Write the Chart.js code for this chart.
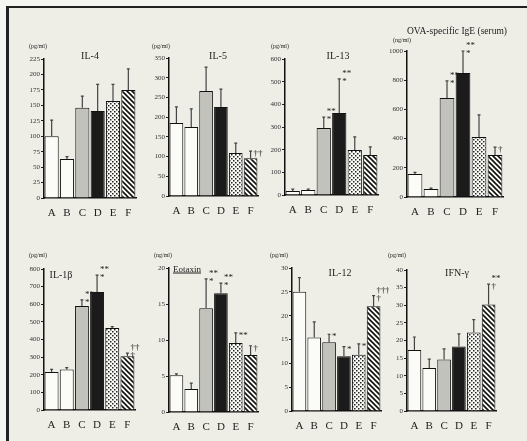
<!DOCTYPE html>
<html><head><meta charset="utf-8">
<script src="https://cdn.jsdelivr.net/npm/chart.js@4.4.1/dist/chart.umd.min.js"></script>
<style>
html,body{margin:0;padding:0;width:527px;height:441px;overflow:hidden;background:#f4f4f0;position:relative}
#frame{position:absolute;left:6px;top:6px;width:521px;height:435px;background:#eeede6;border-top:2px solid #222;border-left:3px solid #222;box-sizing:border-box}
canvas{position:absolute}
.txt{position:absolute;font-family:"Liberation Serif","DejaVu Serif",serif;color:#222;white-space:nowrap;transform:translate(-50%,-50%);line-height:1}
</style></head>
<body>
<div id="frame"></div>
<script>
// ---------- data ----------
const categories = ['A','B','C','D','E','F'];

const il4Mean  = [100, 63, 146, 141, 157, 175];
const il4Sd    = [26, 4, 19, 43, 27, 34];
const il4Marks = ['', '', '', '', '', ''];
const il4Axis  = [225, 25];

const il5Mean  = [185, 175, 266, 226, 109, 96];
const il5Sd    = [41, 46, 61, 45, 25, 18];
const il5Marks = ['', '', '', '', '', '††'];
const il5Axis  = [350, 50];

const il13Mean  = [18, 22, 296, 362, 199, 176];
const il13Sd    = [8, 4, 48, 150, 57, 36];
const il13Marks = ['', '', '**\n*', '**\n*', '', ''];
const il13Axis  = [600, 100];

const igeMean  = [158, 55, 678, 849, 411, 288];
const igeSd    = [10, 6, 117, 151, 151, 54];
const igeMarks = ['', '', '**\n*', '**\n*', '', '†'];
const igeAxis  = [1000, 200];

const il1bMean  = [215, 230, 590, 670, 465, 305];
const il1bSd    = [15, 10, 35, 95, 8, 18];
const il1bMarks = ['', '', '**\n*', '**\n*', '', '††\n†'];
const il1bAxis  = [800, 100];

const eotMean  = [5.1, 3.2, 14.4, 16.5, 9.6, 7.9];
const eotSd    = [0.2, 0.8, 4.1, 1.4, 1.4, 1.3];
const eotMarks = ['', '', '**\n*', '**\n*', '**', '†'];
const eotAxis  = [20, 5];

const il12Mean  = [25.0, 15.4, 14.4, 11.5, 11.8, 22.0];
const il12Sd    = [3.0, 3.3, 1.7, 2.0, 2.3, 2.2];
const il12Marks = ['', '', '*', '*', '*', '†††\n†'];
const il12Axis  = [30, 5];

const ifnMean  = [17.3, 12.2, 14.6, 18.3, 22.3, 30.2];
const ifnSd    = [3.7, 2.5, 3.0, 3.6, 3.6, 5.8];
const ifnMarks = ['', '', '', '', '', '**\n†'];
const ifnAxis  = [40, 5];

const titles = ['IL-4','IL-5','IL-13','OVA-specific IgE (serum)','IL-1β','Eotaxin','IL-12','IFN-γ'];
const units  = ['(pg/ml)','(pg/ml)','(pg/ml)','(ng/ml)','(pg/ml)','(ng/ml)','(pg/ml)','(pg/ml)'];

// ---------- layout ----------
const panels = [
  {mean:il4Mean, sd:il4Sd, marks:il4Marks, axis:il4Axis},
  {mean:il5Mean, sd:il5Sd, marks:il5Marks, axis:il5Axis},
  {mean:il13Mean, sd:il13Sd, marks:il13Marks, axis:il13Axis},
  {mean:igeMean, sd:igeSd, marks:igeMarks, axis:igeAxis},
  {mean:il1bMean, sd:il1bSd, marks:il1bMarks, axis:il1bAxis},
  {mean:eotMean, sd:eotSd, marks:eotMarks, axis:eotAxis},
  {mean:il12Mean, sd:il12Sd, marks:il12Marks, axis:il12Axis},
  {mean:ifnMean, sd:ifnSd, marks:ifnMarks, axis:ifnAxis}
];
const boxes = [
  {x:44, top:59, zero:198, right:136, tx:90, ty:56, ux:38, uy:46, tf:10},
  {x:169, top:58, zero:196, right:258, tx:218, ty:56, ux:161, uy:46, tf:10},
  {x:285, top:59, zero:195, right:378, tx:338, ty:56, ux:280, uy:46, tf:10},
  {x:407, top:51, zero:197, right:503, tx:457, ty:32, ux:402, uy:40, tf:9.5},
  {x:44, top:269, zero:410, right:135, tx:61, ty:275, ux:38, uy:255, tf:10},
  {x:169, top:268, zero:412, right:258, tx:187, ty:269, ux:163, uy:255, tf:9, underline:true},
  {x:292, top:268, zero:411, right:381, tx:340, ty:273, ux:279, uy:255, tf:10},
  {x:407, top:270, zero:411, right:496, tx:457, ty:273, ux:397, uy:255, tf:10}
];

function makePattern(kind){
  const c = document.createElement('canvas');
  const g = c.getContext('2d');
  if(kind==='dots'){
    c.width=4; c.height=4;
    g.fillStyle='#fafaf6'; g.fillRect(0,0,4,4);
    g.fillStyle='#222';
    g.fillRect(0,0,1.5,1.5); g.fillRect(2,2,1.5,1.5);
  } else {
    c.width=5; c.height=5;
    g.fillStyle='#fafaf6'; g.fillRect(0,0,5,5);
    g.strokeStyle='#111'; g.lineWidth=1.6;
    g.beginPath();
    g.moveTo(-1,-1); g.lineTo(6,6);
    g.moveTo(-1,4); g.lineTo(1,6);
    g.moveTo(4,-1); g.lineTo(6,1);
    g.stroke();
  }
  return g.createPattern(c,'repeat');
}
const dotPat = makePattern('dots');
const hatchPat = makePattern('hatch');
const barFills = ['#fbfbf8','#fbfbf8','#c2c2bd','#1b1b1b',dotPat,hatchPat];

const serif = '"Liberation Serif","DejaVu Serif",serif';

const errMarkPlugin = {
  id:'errMark',
  afterDatasetsDraw(chart){
    const p = chart.config.options.plugins.errMark;
    const ctx = chart.ctx, ys = chart.scales.y;
    const meta = chart.getDatasetMeta(0);
    ctx.save();
    meta.data.forEach((el,i)=>{
      const yt = ys.getPixelForValue(p.mean[i]+p.sd[i]);
      ctx.strokeStyle='#444'; ctx.lineWidth=1.2;
      ctx.beginPath();
      ctx.moveTo(el.x, el.y); ctx.lineTo(el.x, yt);
      ctx.moveTo(el.x-1.5, yt); ctx.lineTo(el.x+1.5, yt);
      ctx.stroke();
      const m = p.marks[i];
      if(m){
        const lines = m.split('\n');
        ctx.fillStyle='#222';
        ctx.font = '9px '+serif;
        ctx.textAlign='left'; ctx.textBaseline='alphabetic';
        let y = yt + 5;
        for(let k=lines.length-1;k>=0;k--){
          ctx.fillText(lines[k], el.x+3, y);
          y -= 8;
        }
      }
    });
    ctx.restore();
  }
};

const PADL=28, PADT=14, PADB=22, PADR=8;
panels.forEach((p,i)=>{
  const b = boxes[i];
  const w = PADL + (b.right-b.x) + PADR;
  const h = PADT + (b.zero-b.top) + PADB;
  const cv = document.createElement('canvas');
  cv.width=w; cv.height=h;
  cv.style.left=(b.x-PADL)+'px'; cv.style.top=(b.top-PADT)+'px';
  cv.style.width=w+'px'; cv.style.height=h+'px';
  document.body.appendChild(cv);
  new Chart(cv,{
    type:'bar',
    data:{labels:categories, datasets:[{data:p.mean, backgroundColor:barFills, borderColor:'#111', borderWidth:1, barPercentage:0.92, categoryPercentage:1}]},
    options:{
      responsive:false, animation:false,
      layout:{padding:{top:PADT,right:PADR,left:0,bottom:0}},
      plugins:{legend:{display:false}, tooltip:{enabled:false}, errMark:{mean:p.mean, sd:p.sd, marks:p.marks}},
      scales:{
        x:{offset:true, grid:{display:false}, border:{display:true,color:'#111',width:1.5},
           ticks:{font:{family:serif,size:11}, color:'#222', padding:1, maxRotation:0},
           afterFit:s=>{s.height=PADB;}},
        y:{min:0, max:p.axis[0], grid:{display:true, drawOnChartArea:false, drawTicks:true, tickLength:3, color:'#222'},
           border:{display:true,color:'#111',width:1.5},
           ticks:{stepSize:p.axis[1], font:{family:serif,size:7}, color:'#333', padding:1, callback:v=>String(v)},
           afterFit:s=>{s.width=PADL;}}
      }
    },
    plugins:[errMarkPlugin]
  });
  const t = document.createElement('div');
  t.className='txt'; t.textContent=titles[i];
  t.style.left=b.tx+'px'; t.style.top=b.ty+'px'; t.style.fontSize=b.tf+'px';
  if(b.underline) t.style.textDecoration='underline';
  document.body.appendChild(t);
  const u = document.createElement('div');
  u.className='txt'; u.textContent=units[i];
  u.style.left=b.ux+'px'; u.style.top=b.uy+'px'; u.style.fontSize='6px';
  document.body.appendChild(u);
});
</script>
</body></html>
